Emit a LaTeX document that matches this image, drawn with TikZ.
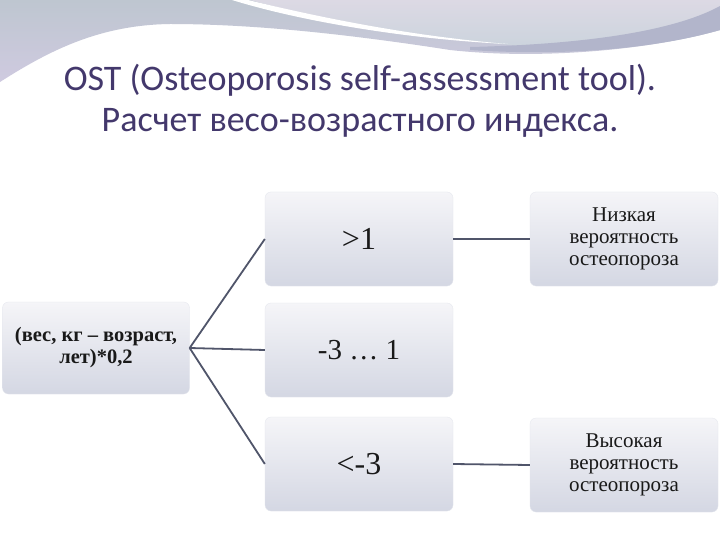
\documentclass[tikz,border=0pt]{standalone}
\usepackage{fontspec}
\setmainfont{Liberation Serif}
\newfontfamily\titlefont{Carlito}
\definecolor{titlecol}{HTML}{43386C}
\definecolor{linecol}{HTML}{50556A}
\definecolor{bandA}{HTML}{BEC6D0}
\definecolor{bandAlow}{HTML}{CFCAE0}
\definecolor{bandB}{HTML}{DCD9E4}
\definecolor{bandBlow}{HTML}{C9D3DC}
\definecolor{bandDark}{HTML}{B2B5CB}
\definecolor{boxtop}{HTML}{F5F5F8}
\definecolor{boxbot}{HTML}{D4D7E3}
\tikzset{
  card/.style={rounded corners=6bp, top color=boxtop, bottom color=boxbot,
    draw=boxbot!60, line width=0.3bp, minimum width=188bp, minimum height=94bp,
    align=center, text=black!90, inner sep=2bp},
  link/.style={draw=linecol, line width=1.8bp},
}
\begin{document}
\begin{tikzpicture}[x=1bp,y=-1bp]
\useasboundingbox (0,0) rectangle (720,540);
\fill[white] (0,0) rectangle (720,540);
% top decoration
\shade[top color=bandA, bottom color=bandAlow]
  (0,0) -- (0,82) .. controls (50,50) and (100,25) .. (170,24)
  .. controls (260,24) and (360,36) .. (450,50)
  .. controls (540,60) and (650,50) .. (720,30) -- (720,0) -- cycle;
\shade[top color=bandB, bottom color=bandBlow]
  (250,0) .. controls (330,22) and (430,38) .. (510,45)
  .. controls (560,54) and (650,50) .. (720,30) -- (720,0) -- cycle;
\fill[bandDark]
  (470,47) .. controls (600,44) and (680,28) .. (720,6) -- (720,30)
  .. controls (650,50) and (560,56) .. (470,50) -- cycle;
\fill[white]
  (232,0) .. controls (310,24) and (420,40) .. (508,44)
  .. controls (420,37) and (330,20) .. (248,0) -- cycle;
% title
\node[font=\titlefont\fontsize{36bp}{41bp}\selectfont, text=titlecol, align=center]
  (title) at (360,101) {OST (Osteoporosis self-assessment tool).\\Расчет весо-возрастного индекса.};
% boxes
\node[card, minimum width=187bp, minimum height=92bp,
  font=\bfseries\fontsize{20.5bp}{22bp}\selectfont] (calc) at (96,348)
  {(вес, кг – возраст,\\лет)*0,2};
\node[card, font=\fontsize{32bp}{32bp}\selectfont] (high) at (359,239) {>1};
\node[card, font=\fontsize{29bp}{30bp}\selectfont] (mid) at (359,350) {-3 … 1};
\node[card, font=\fontsize{32bp}{32bp}\selectfont] (low) at (359,464) {<-3};
\node[card, font=\fontsize{21bp}{22bp}\selectfont] (lowrisk) at (624,239)
  {Низкая\\вероятность\\остеопороза};
\node[card, font=\fontsize{21bp}{22bp}\selectfont] (highrisk) at (624,465)
  {Высокая\\вероятность\\остеопороза};
% connectors
\draw[link] (calc.east) -- (high.west);
\draw[link] (calc.east) -- (mid.west);
\draw[link] (calc.east) -- (low.west);
\draw[link] (high.east) -- (lowrisk.west);
\draw[link] (low.east) -- (highrisk.west);
\end{tikzpicture}
\end{document}
